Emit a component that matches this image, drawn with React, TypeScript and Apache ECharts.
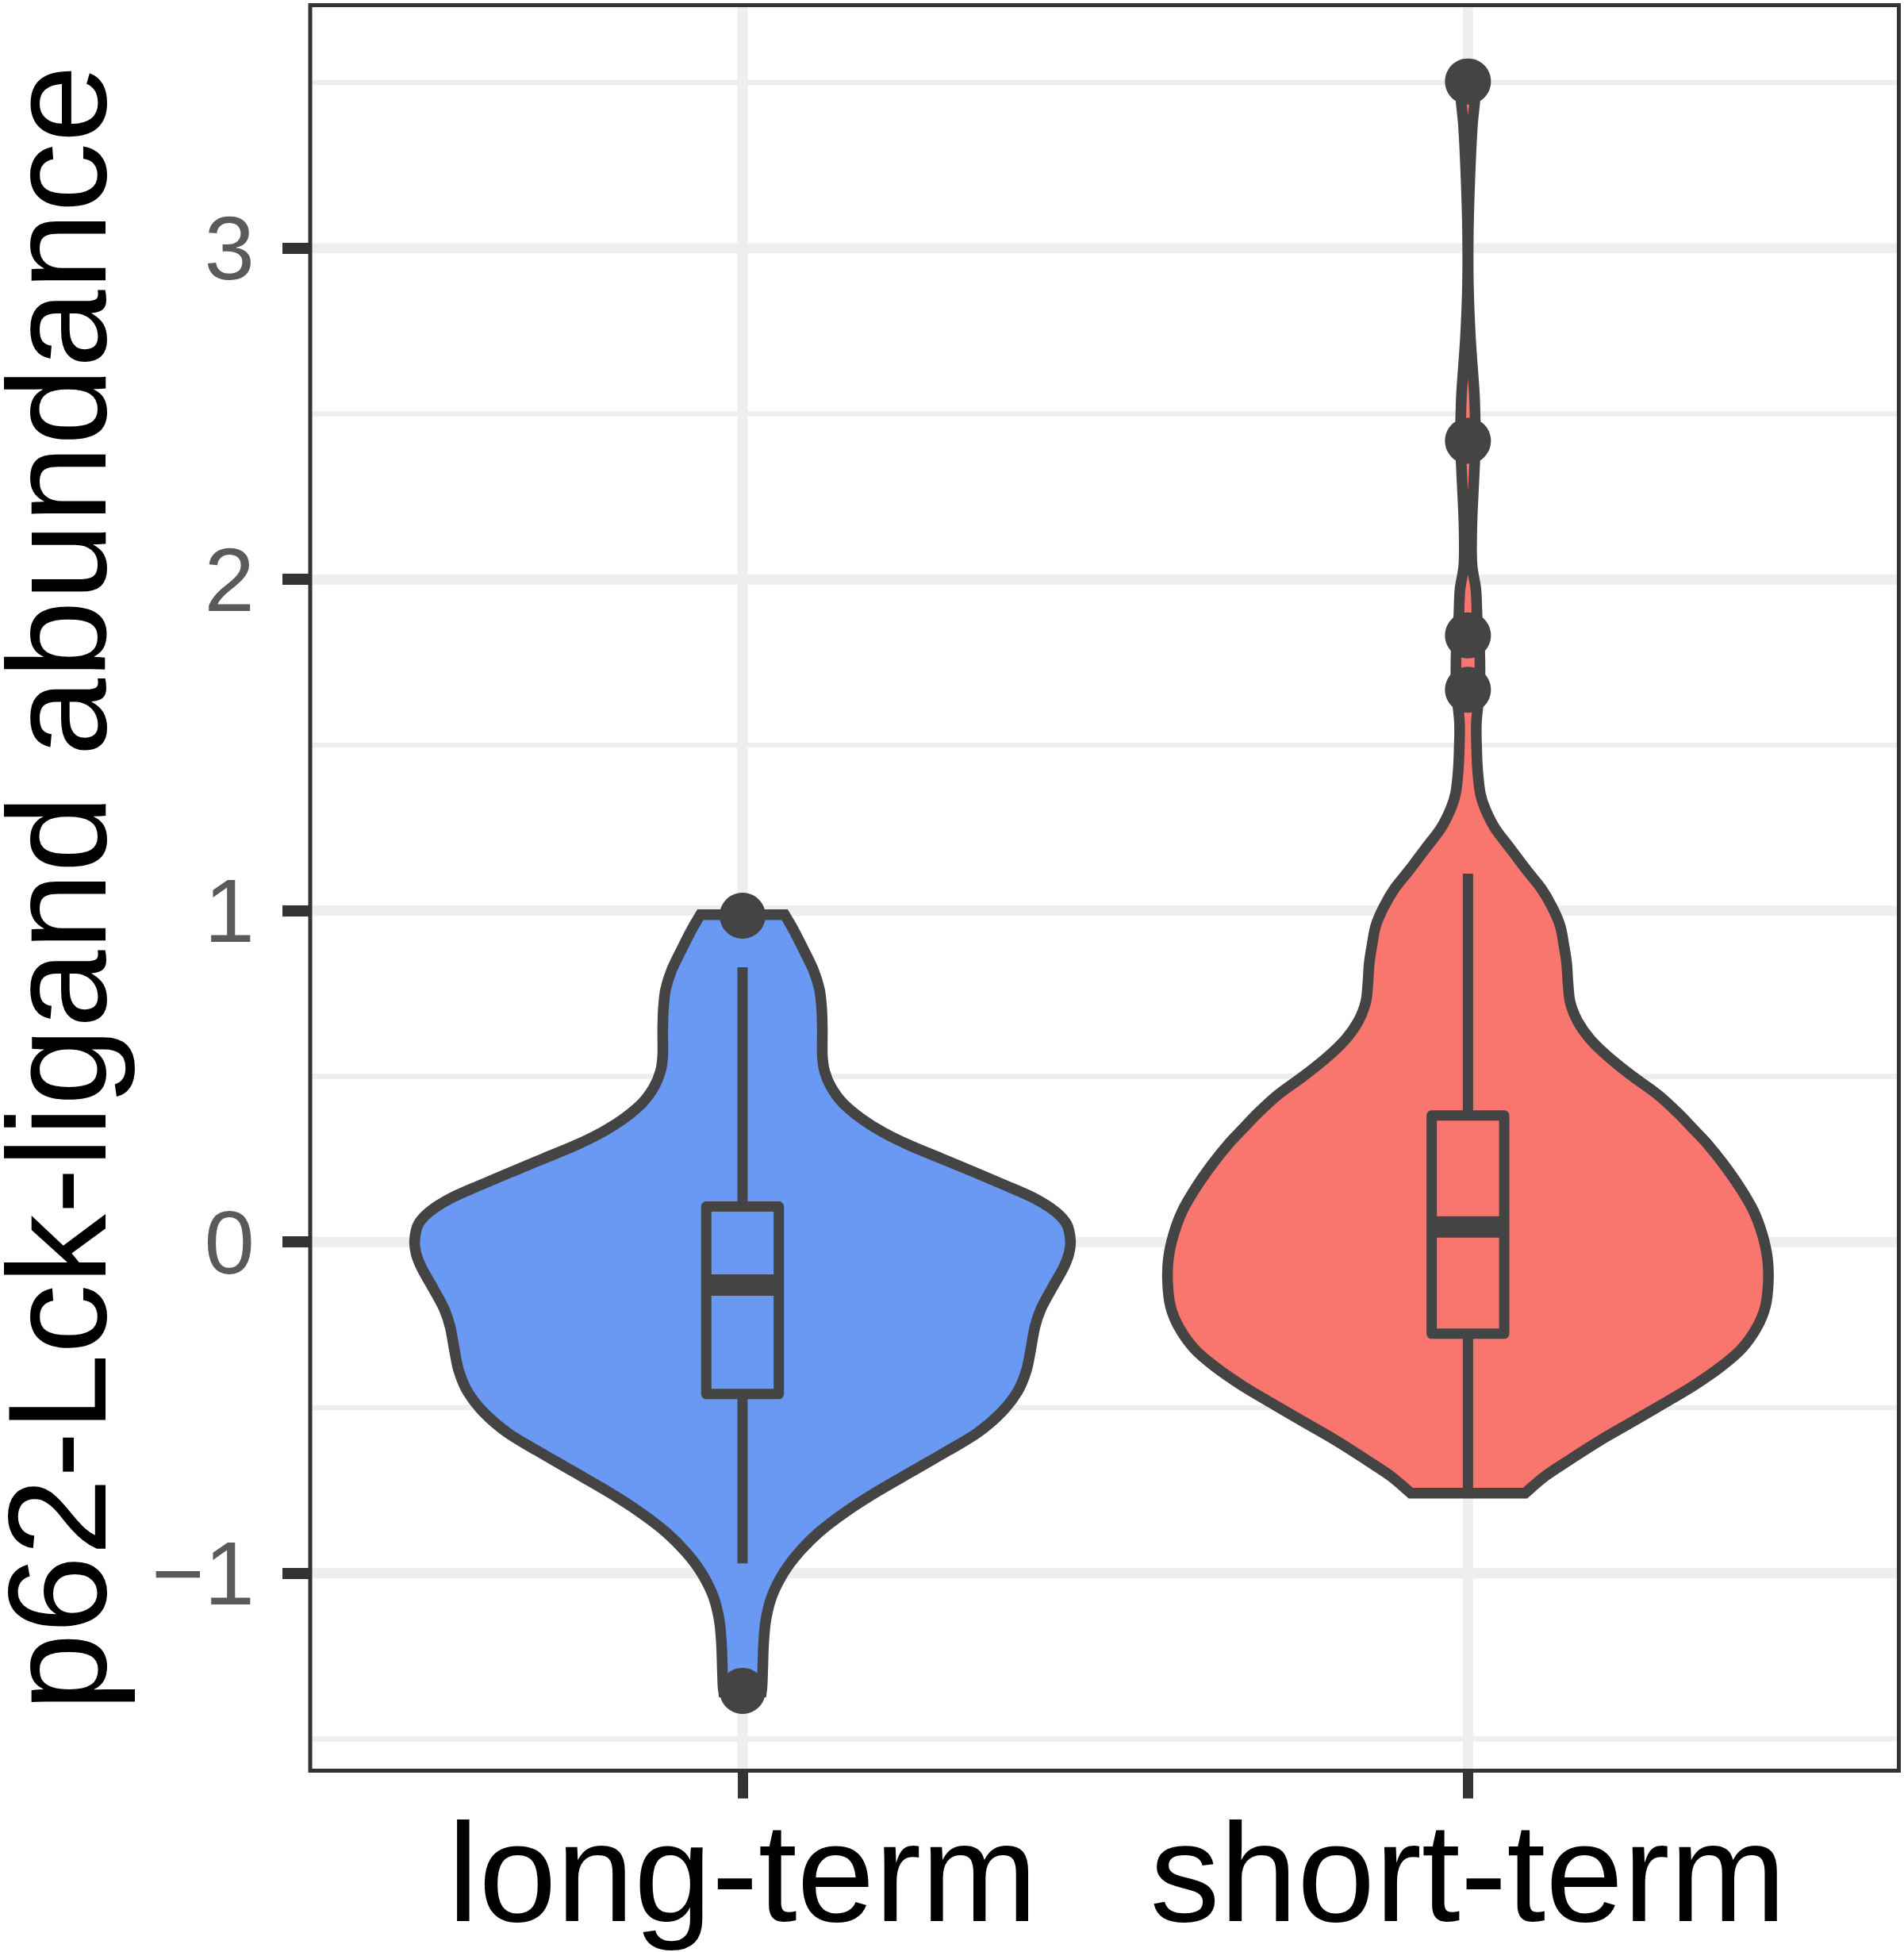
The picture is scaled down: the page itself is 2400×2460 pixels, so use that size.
import React, { useEffect, useRef } from "react";
import * as echarts from "echarts";

// ---------------- data ----------------
const categories = ["long-term", "short-term"];
const categoryPositions = [1, 2];
const yTicks = [-1, 0, 1, 2, 3];
const yMinorBreaks = [-1.5, -0.5, 0.5, 1.5, 2.5, 3.5];

// violin density profiles: value (y) and half-width (x-axis units)
const longTermY = [
  0.988, 0.947, 0.883, 0.819, 0.763, 0.707, 0.643, 0.564, 0.516, 0.468, 0.42,
  0.372, 0.332, 0.292, 0.252, 0.212, 0.172, 0.132, 0.092, 0.053, 0.005, -0.035,
  -0.08, -0.142, -0.204, -0.257, -0.328, -0.39, -0.452, -0.514, -0.576, -0.629,
  -0.691, -0.753, -0.815, -0.877, -0.939, -1.001, -1.072, -1.143, -1.214,
  -1.276, -1.338, -1.358,
];
const longTermHalfWidth = [
  0.058, 0.069, 0.084, 0.098, 0.106, 0.109, 0.11, 0.11, 0.113, 0.122, 0.138,
  0.164, 0.193, 0.23, 0.274, 0.318, 0.361, 0.402, 0.431, 0.447, 0.452, 0.45,
  0.442, 0.426, 0.411, 0.403, 0.397, 0.391, 0.379, 0.357, 0.324, 0.284, 0.235,
  0.186, 0.142, 0.105, 0.077, 0.056, 0.04, 0.032, 0.029, 0.028, 0.027, 0.026,
];
const shortTermY = [
  3.503, 3.446, 3.366, 3.206, 3.047, 2.887, 2.727, 2.568, 2.488, 2.415, 2.328,
  2.168, 2.048, 1.969, 1.888, 1.83, 1.754, 1.665, 1.57, 1.49, 1.42, 1.354,
  1.306, 1.25, 1.186, 1.122, 1.067, 1.011, 0.955, 0.899, 0.843, 0.779, 0.723,
  0.667, 0.611, 0.556, 0.5, 0.444, 0.388, 0.34, 0.296, 0.236, 0.164, 0.092,
  0.021, -0.051, -0.123, -0.195, -0.259, -0.323, -0.378, -0.434, -0.49, -0.546,
  -0.602, -0.658, -0.706, -0.758,
];
const shortTermHalfWidth = [
  0.0095, 0.0095, 0.006, 0.0025, 0.0005, 0.0006, 0.0035, 0.0086, 0.0099,
  0.0105, 0.0088, 0.0055, 0.0055, 0.011, 0.0126, 0.015, 0.0165, 0.016, 0.0117,
  0.012, 0.0135, 0.017, 0.024, 0.037, 0.059, 0.081, 0.101, 0.116, 0.127,
  0.132, 0.136, 0.138, 0.141, 0.151, 0.169, 0.195, 0.227, 0.262, 0.29, 0.311,
  0.33, 0.352, 0.375, 0.394, 0.406, 0.413, 0.414, 0.41, 0.398, 0.377, 0.348,
  0.311, 0.268, 0.224, 0.18, 0.14, 0.107, 0.079,
];

// box stats: [lower whisker, q1, median, q3, upper whisker]
const longTermBox = [-0.97, -0.459, -0.13, 0.107, 0.829];
const shortTermBox = [-0.755, -0.277, 0.045, 0.382, 1.112];

const longTermOutliers = [0.985, -1.355];
const shortTermOutliers = [3.503, 2.418, 1.831, 1.667];

// ---------------- style ----------------
const W = 2400;
const H = 2460;
const GRID = { left: 391, top: 6.6, right: 6.5, bottom: 228.5 };
const X_MIN = 0.404;
const X_MAX = 2.594;
const Y_MIN = -1.596;
const Y_MAX = 3.733;
const BOX_HALF = 0.05;
const OUTLINE = "#444444";
const BORDER = "#333333";
const GRID_COLOR = "#EEEEEE";
const FILLS = ["#6A99F4", "#F8766D"];
const FONT = "'Liberation Sans', Arial, Helvetica, sans-serif";

const fmtY = (v: number) => (v < 0 ? "\u2212" + Math.abs(v) : String(v));

function lineEl(a: number[], b: number[], stroke: string, lineWidth: number) {
  return {
    type: "line",
    shape: { x1: a[0], y1: a[1], x2: b[0], y2: b[1] },
    style: { stroke, lineWidth, lineCap: "butt" },
  };
}

// smooth open curve through points (Catmull-Rom -> cubic Bezier)
function curveThrough(pts: number[][], start: boolean): string {
  let d = start ? `M${pts[0][0]},${pts[0][1]}` : `L${pts[0][0]},${pts[0][1]}`;
  for (let i = 0; i < pts.length - 1; i++) {
    const p0 = pts[i - 1] || pts[i];
    const p1 = pts[i];
    const p2 = pts[i + 1];
    const p3 = pts[i + 2] || pts[i + 1];
    const c1x = p1[0] + (p2[0] - p0[0]) / 6;
    const c1y = p1[1] + (p2[1] - p0[1]) / 6;
    const c2x = p2[0] - (p3[0] - p1[0]) / 6;
    const c2y = p2[1] - (p3[1] - p1[1]) / 6;
    d += ` C${c1x},${c1y} ${c2x},${c2y} ${p2[0]},${p2[1]}`;
  }
  return d;
}

const gridRender = (_p: any, api: any) => {
  const children: any[] = [];
  yMinorBreaks.forEach((v) => {
    children.push(lineEl(api.coord([X_MIN, v]), api.coord([X_MAX, v]), GRID_COLOR, 6.5));
  });
  yTicks.forEach((v) => {
    children.push(lineEl(api.coord([X_MIN, v]), api.coord([X_MAX, v]), GRID_COLOR, 13));
  });
  categoryPositions.forEach((p) => {
    children.push(lineEl(api.coord([p, Y_MIN]), api.coord([p, Y_MAX]), GRID_COLOR, 13));
  });
  return { type: "group", children };
};

const violinRender =
  (pos: number, ys: number[], hws: number[], fill: string) => (_p: any, api: any) => {
    const left = ys.map((y, i) => api.coord([pos - hws[i], y]));
    const right = ys.map((y, i) => api.coord([pos + hws[i], y])).reverse();
    const d = curveThrough(left, true) + " " + curveThrough(right, false) + " Z";
    return {
      type: "path",
      shape: { pathData: d },
      style: { fill, stroke: OUTLINE, lineWidth: 13.5, lineJoin: "miter" },
    };
  };

const boxRender = (pos: number, stats: number[], fill: string) => (_p: any, api: any) => {
  const [lo, q1, med, q3, hi] = stats;
  const tl = api.coord([pos - BOX_HALF, q3]);
  const br = api.coord([pos + BOX_HALF, q1]);
  const mL = api.coord([pos - BOX_HALF, med]);
  const mR = api.coord([pos + BOX_HALF, med]);
  return {
    type: "group",
    children: [
      lineEl(api.coord([pos, q3]), api.coord([pos, hi]), OUTLINE, 13),
      lineEl(api.coord([pos, q1]), api.coord([pos, lo]), OUTLINE, 13),
      {
        type: "rect",
        shape: { x: tl[0], y: tl[1], width: br[0] - tl[0], height: br[1] - tl[1] },
        style: { fill, stroke: OUTLINE, lineWidth: 13, lineJoin: "round" },
      },
      lineEl(mL, mR, OUTLINE, 27),
    ],
  };
};

export default function App() {
  const ref = useRef<HTMLDivElement>(null);

  useEffect(() => {
    document.body.style.margin = "0";
    document.body.style.overflow = "hidden";
    const chart = echarts.init(ref.current!, undefined, { renderer: "svg" });

    const outlierData = [
      ...longTermOutliers.map((v) => [categoryPositions[0], v]),
      ...shortTermOutliers.map((v) => [categoryPositions[1], v]),
    ];

    chart.setOption({
      animation: false,
      backgroundColor: "#ffffff",
      textStyle: { fontFamily: FONT },
      grid: {
        left: GRID.left,
        top: GRID.top,
        right: GRID.right,
        bottom: GRID.bottom,
        containLabel: false,
        outerBoundsMode: "none",
        show: false,
      },
      xAxis: {
        type: "value",
        min: X_MIN,
        max: X_MAX,
        axisLine: { show: false, onZero: false },
        splitLine: { show: false },
        axisTick: {
          show: true,
          customValues: categoryPositions,
          length: 35,
          lineStyle: { color: BORDER, width: 13 },
        },
        axisLabel: {
          customValues: categoryPositions,
          formatter: (v: number) => categories[Math.round(v) - 1] ?? "",
          fontSize: 176,
          lineHeight: 176,
          color: "#000000",
          fontFamily: FONT,
          margin: 40,
        },
      },
      yAxis: {
        type: "value",
        min: Y_MIN,
        max: Y_MAX,
        axisLine: { show: false, onZero: false },
        splitLine: { show: false },
        axisTick: {
          show: true,
          customValues: yTicks,
          length: 35,
          lineStyle: { color: BORDER, width: 14 },
        },
        axisLabel: {
          customValues: yTicks,
          formatter: fmtY,
          fontSize: 114,
          lineHeight: 114,
          color: "#5A5A5A",
          fontFamily: FONT,
          margin: 70,
        },
        name: "p62-Lck-ligand abundance",
        nameLocation: "middle",
        nameRotate: 90,
        nameGap: 249,
        nameTextStyle: {
          fontSize: 176,
          lineHeight: 140,
          color: "#000000",
          fontFamily: FONT,
        },
      },
      graphic: [
        {
          type: "rect",
          z: 100,
          silent: true,
          shape: {
            x: GRID.left,
            y: GRID.top,
            width: W - GRID.left - GRID.right,
            height: H - GRID.top - GRID.bottom,
          },
          style: { fill: "transparent", stroke: BORDER, lineWidth: 5 },
        },
      ],
      series: [
        {
          type: "custom",
          z: 1,
          silent: true,
          coordinateSystem: "cartesian2d",
          data: [[1, 0]],
          renderItem: gridRender,
        },
        {
          type: "custom",
          z: 2,
          silent: true,
          coordinateSystem: "cartesian2d",
          data: [[categoryPositions[0], 0]],
          renderItem: violinRender(categoryPositions[0], longTermY, longTermHalfWidth, FILLS[0]),
        },
        {
          type: "custom",
          z: 2,
          silent: true,
          coordinateSystem: "cartesian2d",
          data: [[categoryPositions[1], 0]],
          renderItem: violinRender(categoryPositions[1], shortTermY, shortTermHalfWidth, FILLS[1]),
        },
        {
          type: "custom",
          z: 3,
          silent: true,
          coordinateSystem: "cartesian2d",
          data: [[categoryPositions[0], 0]],
          renderItem: boxRender(categoryPositions[0], longTermBox, FILLS[0]),
        },
        {
          type: "custom",
          z: 3,
          silent: true,
          coordinateSystem: "cartesian2d",
          data: [[categoryPositions[1], 0]],
          renderItem: boxRender(categoryPositions[1], shortTermBox, FILLS[1]),
        },
        {
          type: "scatter",
          z: 5,
          silent: true,
          symbol: "circle",
          symbolSize: 58,
          itemStyle: { color: OUTLINE, opacity: 1 },
          data: outlierData,
        },
      ],
    });

    return () => chart.dispose();
  }, []);

  return (
    <div
      ref={ref}
      style={{ position: "absolute", left: 0, top: 0, width: W, height: H }}
    />
  );
}
